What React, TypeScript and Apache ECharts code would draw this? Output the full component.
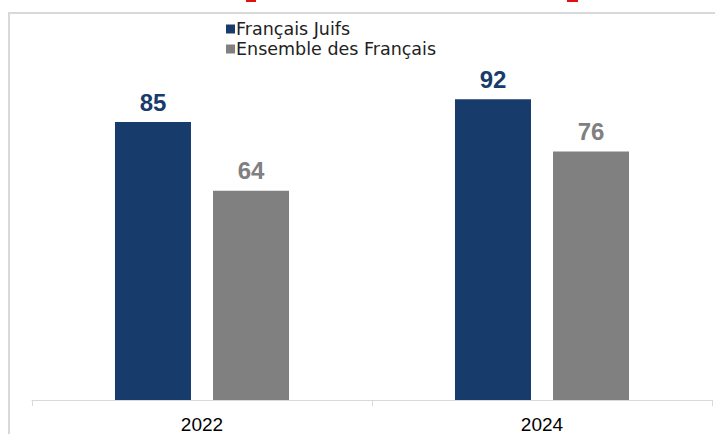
import React, { useEffect, useRef } from "react";
import * as echarts from "echarts";

const categories = ["2022", "2024"];
const seriesNames = ["Français Juifs", "Ensemble des Français"];
const juifsValues = [85, 92];
const ensembleValues = [64, 76];

export default function App() {
  const ref = useRef<HTMLDivElement>(null);
  useEffect(() => {
    if (!ref.current) return;
    const chart = echarts.init(ref.current, null, { renderer: "svg" });
    chart.setOption({
      animation: false,
      backgroundColor: "#ffffff",
      graphic: [
        {
          type: "rect",
          shape: { x: 9, y: 13, width: 720, height: 440 },
          style: { fill: "none", stroke: "#d9d9d9", lineWidth: 2 },
          silent: true,
        },
        {
          type: "rect",
          shape: { x: 246, y: 0, width: 10, height: 2 },
          style: { fill: "#e01010" },
          silent: true,
        },
        {
          type: "rect",
          shape: { x: 567, y: 0, width: 11, height: 2 },
          style: { fill: "#e01010" },
          silent: true,
        },
      ],
      legend: {
        orient: "vertical",
        left: 221,
        top: 15,
        itemWidth: 9,
        itemHeight: 9,
        itemGap: 2,
        icon: "rect",
        textStyle: { fontFamily: "DejaVu Sans", fontSize: 17.5, color: "#222222", padding: [0, 0, 0, -4] },
        data: seriesNames,
      },
      grid: { left: 32, right: 3, top: 73, bottom: 34 },
      xAxis: {
        type: "category",
        data: categories,
        axisLine: { lineStyle: { color: "#d9d9d9", width: 1 } },
        axisTick: { show: true, length: 6, lineStyle: { color: "#d9d9d9" } },
        axisLabel: { fontFamily: "Liberation Sans", fontSize: 19, color: "#000000", margin: 15 },
      },
      yAxis: {
        type: "value",
        min: 0,
        max: 100,
        show: false,
        splitLine: { show: false },
      },
      series: [
        {
          name: seriesNames[0],
          type: "bar",
          data: juifsValues,
          barWidth: 76,
          barGap: "29%",
          itemStyle: { color: "#173c6b" },
          label: {
            show: true,
            position: "top",
            distance: 8,
            fontFamily: "Liberation Sans",
            fontWeight: "bold",
            fontSize: 24,
            color: "#173c6b",
          },
        },
        {
          name: seriesNames[1],
          type: "bar",
          data: ensembleValues,
          barWidth: 76,
          itemStyle: { color: "#808080" },
          label: {
            show: true,
            position: "top",
            distance: 8,
            fontFamily: "Liberation Sans",
            fontWeight: "bold",
            fontSize: 24,
            color: "#808080",
          },
        },
      ],
    });
    return () => chart.dispose();
  }, []);
  return (
    <div
      ref={ref}
      style={{ position: "fixed", left: 0, top: 0, width: 715, height: 434 }}
    />
  );
}
